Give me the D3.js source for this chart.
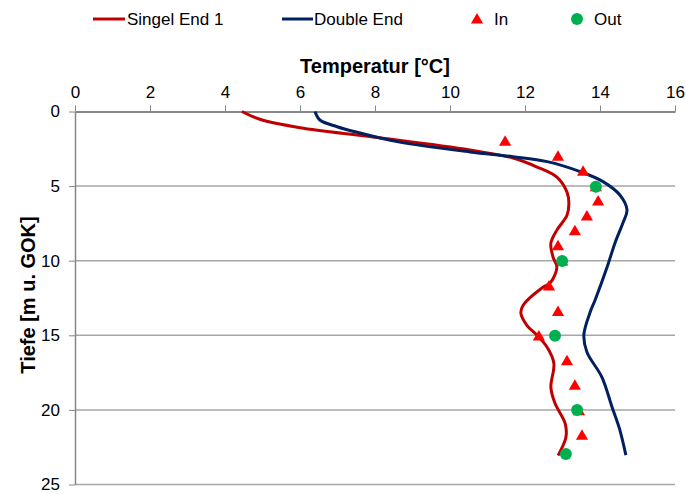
<!DOCTYPE html>
<html>
<head>
<meta charset="utf-8">
<script src="https://cdn.jsdelivr.net/npm/d3@7"></script>
<style>
  body { margin: 0; background: #ffffff; }
  svg { font-family: "Liberation Sans", Arial, sans-serif; }
</style>
</head>
<body>
<div id="chart"></div>
<script>
// Temperature profiles, [temperature °C, depth m]
const singelEnd1 = [
  [4.45, 0], [4.93, 0.52], [6.0, 1.09], [7.95, 1.71], [10.53, 2.58], [11.68, 3.12],
  [12.32, 3.72], [12.85, 4.4], [13.12, 5.4], [13.17, 6.14], [13.12, 6.95], [12.85, 7.95],
  [12.69, 8.83], [12.75, 9.77], [12.85, 10.44], [12.67, 11.5], [12.48, 11.78], [11.95, 12.99],
  [11.89, 13.52], [12.05, 14.33], [12.32, 15.0], [12.59, 15.8], [12.77, 16.88], [12.69, 18.49],
  [12.8, 19.56], [13.07, 20.9], [13.09, 21.85], [12.88, 23.05]
];
const doubleEnd = [
  [6.4, 0], [6.53, 0.57], [6.99, 1.02], [7.6, 1.44], [8.59, 2.02], [10.53, 2.71],
  [11.68, 3.03], [12.59, 3.36], [13.47, 4.03], [14.08, 4.7], [14.53, 5.6], [14.72, 6.6],
  [14.61, 7.47], [14.4, 8.81], [14.19, 10.42], [13.87, 12.63], [13.73, 13.5], [13.57, 14.98],
  [13.65, 16.12], [14.05, 17.8], [14.32, 19.8], [14.53, 21.35], [14.69, 23.03]
];
const inPoints = [
  [11.47, 2.0], [12.88, 3.0], [13.55, 4.0], [13.89, 5.05], [13.95, 6.0], [13.65, 7.0],
  [13.33, 8.0], [12.88, 9.0], [12.99, 10.02], [12.64, 11.7], [12.88, 13.4], [12.37, 15.05],
  [13.12, 16.7], [13.33, 18.35], [13.44, 20.05], [13.52, 21.7]
];
const outPoints = [
  [13.89, 5.04], [12.99, 10.02], [12.8, 15.03], [13.39, 20.01], [13.09, 22.96]
];
const xTicks = [0, 2, 4, 6, 8, 10, 12, 14, 16];
const yTicks = [0, 5, 10, 15, 20, 25];

const width = 686, height = 494;
const margin = {top: 111.5, left: 75, right: 11, bottom: 9.5};

const svg = d3.select('#chart').append('svg')
  .attr('width', width)
  .attr('height', height);

const x = d3.scaleLinear().domain([0, 16]).range([margin.left, width - margin.right]);
const y = d3.scaleLinear().domain([0, 25]).range([margin.top, height - margin.bottom]);

// horizontal gridlines
svg.append('g')
  .selectAll('line')
  .data(yTicks.filter(d => d > 0))
  .enter().append('line')
  .attr('x1', x(0)).attr('x2', x(16))
  .attr('y1', d => y(d)).attr('y2', d => y(d))
  .style('stroke', '#a6a6a6')
  .style('stroke-width', 1.5);

// top x-axis
const xAxis = svg.append('g')
  .attr('transform', `translate(0, ${y(0)})`)
  .call(d3.axisTop(x).tickValues(xTicks).tickSize(6).tickPadding(8).tickSizeOuter(0));
xAxis.select('.domain').style('stroke', '#868686').style('stroke-width', 2);
xAxis.selectAll('.tick line').style('stroke', '#868686');
xAxis.selectAll('text').style('font-size', '17px').style('fill', '#000');

// left y-axis
const yAxis = svg.append('g')
  .attr('transform', `translate(${x(0)}, 0)`)
  .call(d3.axisLeft(y).tickValues(yTicks).tickSize(6).tickPadding(9).tickSizeOuter(0));
yAxis.select('.domain').style('stroke', '#868686').style('stroke-width', 1.5);
yAxis.selectAll('.tick line').style('stroke', '#868686');
yAxis.selectAll('text').style('font-size', '17px').style('fill', '#000');

// axis titles
svg.append('text')
  .attr('x', x(8))
  .attr('y', 73)
  .style('text-anchor', 'middle')
  .style('font-weight', 'bold')
  .style('font-size', '20px')
  .text('Temperatur [°C]');

svg.append('text')
  .attr('transform', 'translate(35, 295) rotate(-90)')
  .style('text-anchor', 'middle')
  .style('font-weight', 'bold')
  .style('font-size', '20px')
  .text('Tiefe [m u. GOK]');

// profile lines
const line = d3.line()
  .x(d => x(d[0]))
  .y(d => y(d[1]))
  .curve(d3.curveCatmullRom.alpha(0.5));

svg.append('path')
  .datum(singelEnd1)
  .attr('d', line)
  .style('fill', 'none')
  .style('stroke', '#c00000')
  .style('stroke-width', 3);

svg.append('path')
  .datum(doubleEnd)
  .attr('d', line)
  .style('fill', 'none')
  .style('stroke', '#002060')
  .style('stroke-width', 3);

// markers
const triangle = d3.symbol().type(d3.symbolTriangle).size(64);
svg.append('g')
  .selectAll('path')
  .data(inPoints)
  .enter().append('path')
  .attr('d', triangle)
  .attr('transform', d => `translate(${x(d[0])}, ${y(d[1]) + 1})`)
  .style('fill', '#ff0000');

svg.append('g')
  .selectAll('circle')
  .data(outPoints)
  .enter().append('circle')
  .attr('cx', d => x(d[0]))
  .attr('cy', d => y(d[1]))
  .attr('r', 6)
  .style('fill', '#00b050');

// legend
const legend = svg.append('g').style('font-size', '17px');
const legendY = 19;

legend.append('line')
  .attr('x1', 93).attr('x2', 125).attr('y1', legendY).attr('y2', legendY)
  .style('stroke', '#c00000').style('stroke-width', 3);
legend.append('text').attr('x', 127).attr('y', legendY + 6).text('Singel End 1');

legend.append('line')
  .attr('x1', 282).attr('x2', 313).attr('y1', legendY).attr('y2', legendY)
  .style('stroke', '#002060').style('stroke-width', 3);
legend.append('text').attr('x', 314).attr('y', legendY + 6).text('Double End');

legend.append('path')
  .attr('d', triangle)
  .attr('transform', `translate(477, ${legendY + 1})`)
  .style('fill', '#ff0000');
legend.append('text').attr('x', 494).attr('y', legendY + 6).text('In');

legend.append('circle')
  .attr('cx', 577).attr('cy', legendY).attr('r', 6)
  .style('fill', '#00b050');
legend.append('text').attr('x', 594).attr('y', legendY + 6).text('Out');
</script>
</body>
</html>
